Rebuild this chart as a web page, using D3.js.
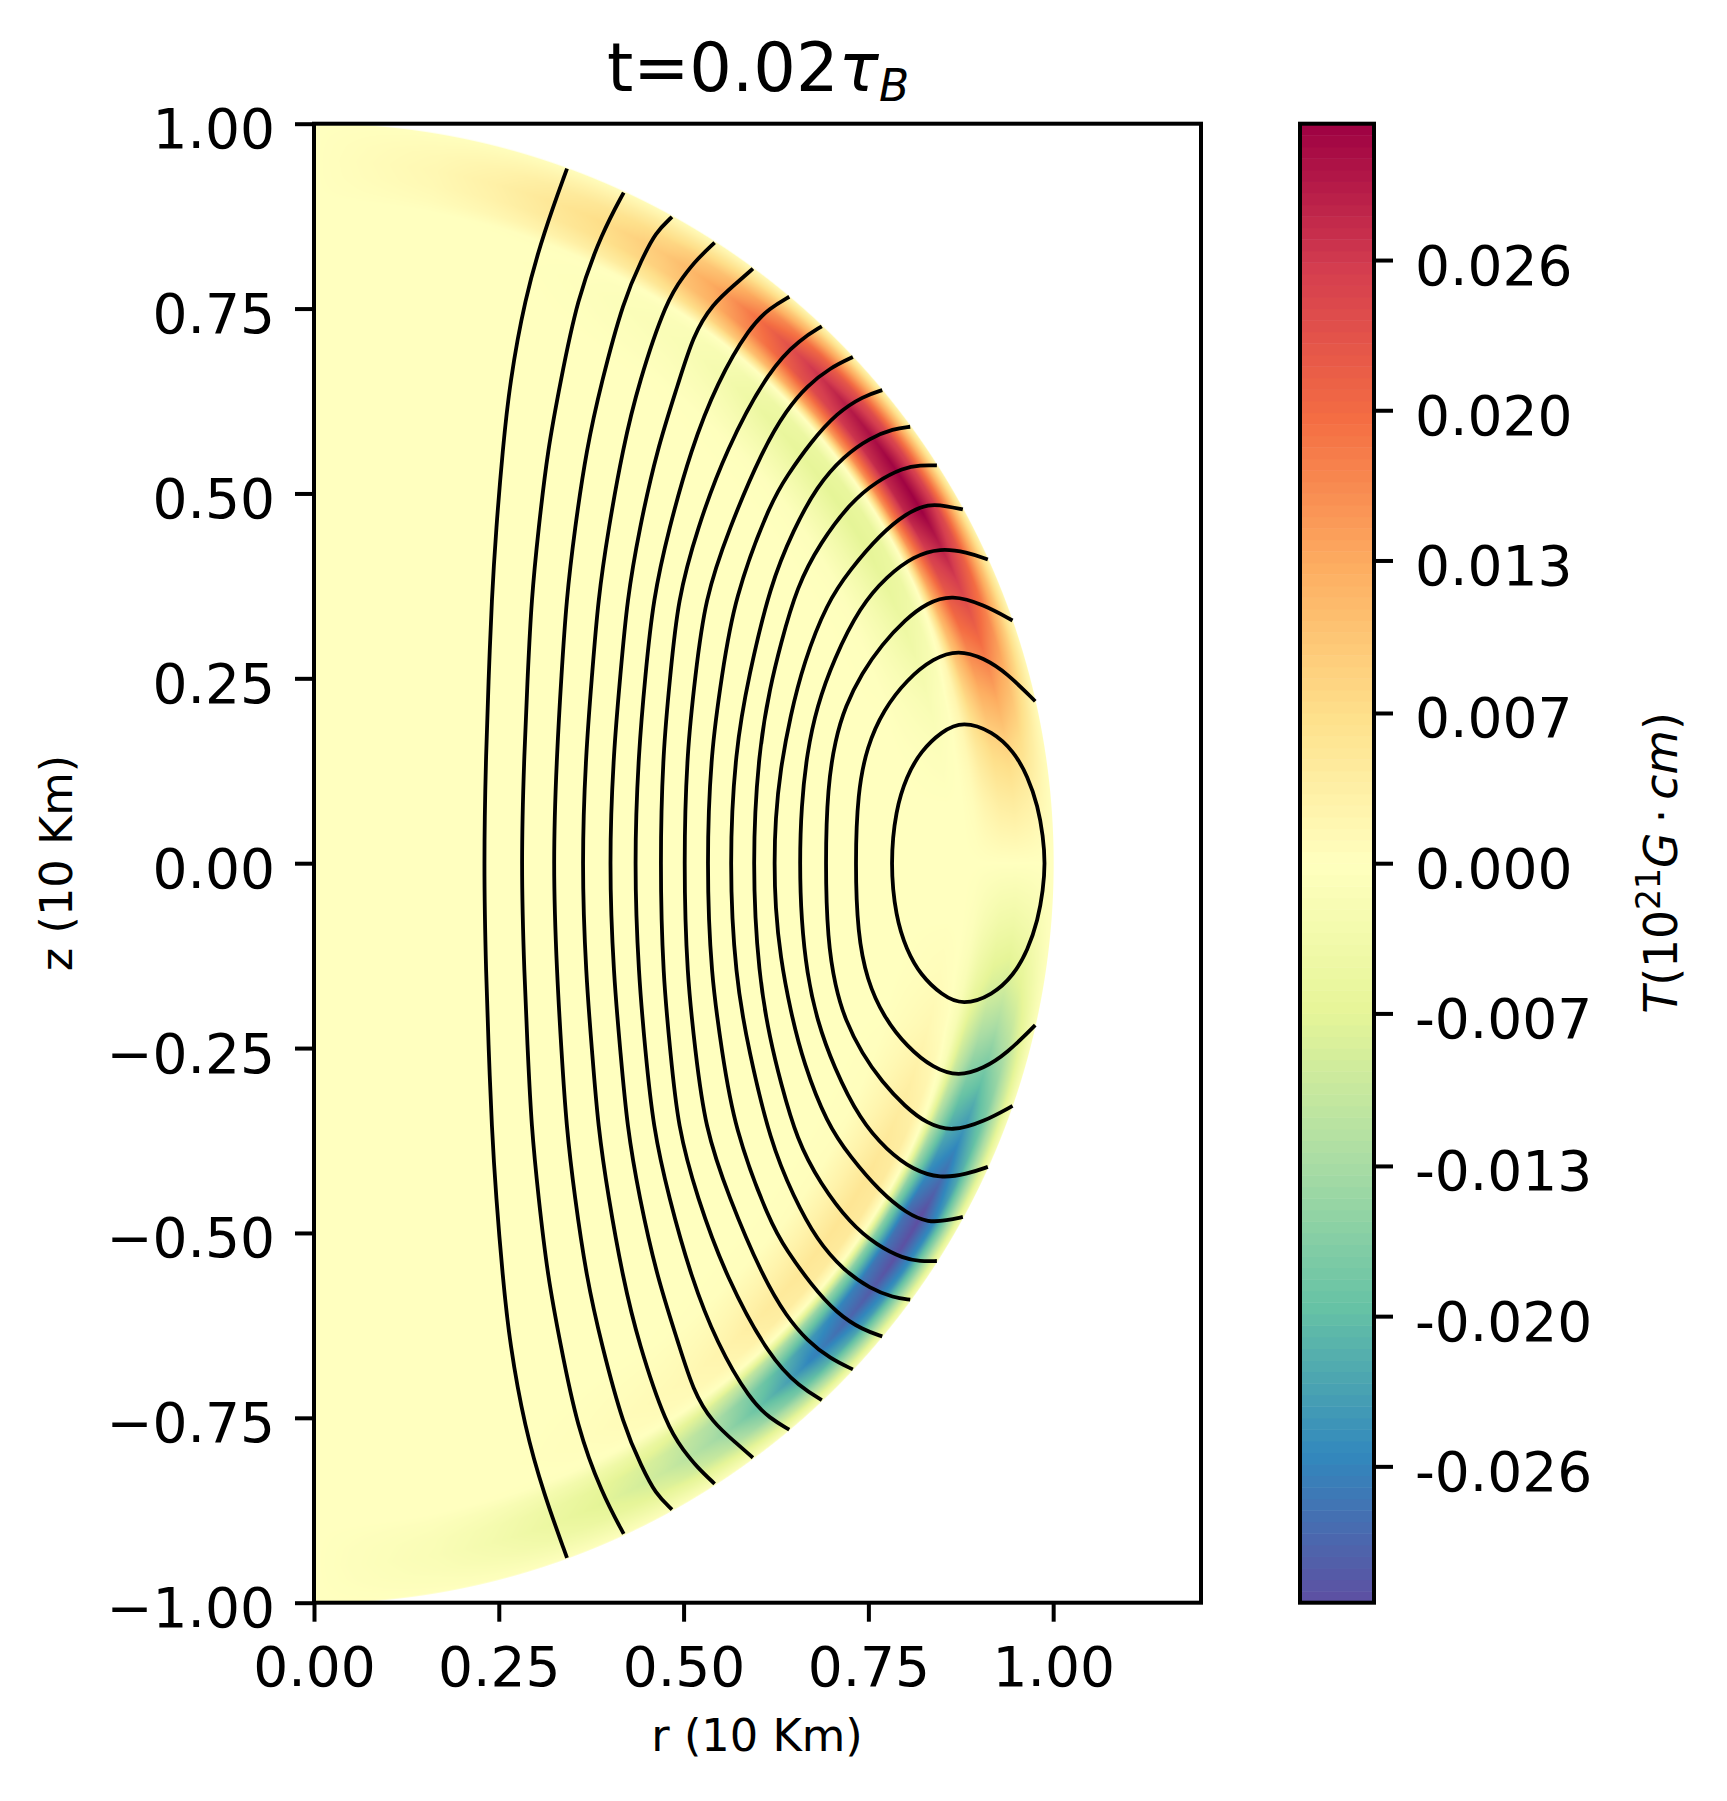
<!DOCTYPE html>
<html>
<head>
<meta charset="utf-8">
<script src="https://cdnjs.cloudflare.com/ajax/libs/d3/7.8.5/d3.min.js"></script>
<style>
  body { margin: 0; background: #fff; }
  text { font-family: "DejaVu Sans"; fill: #000; }
</style>
</head>
<body>
<div id="my_dataviz"></div>
<script>
// tick values and labels
const xTicks = [0, 0.25, 0.5, 0.75, 1];
const yTicks = [-1, -0.75, -0.5, -0.25, 0, 0.25, 0.5, 0.75, 1];
const cbarTicks = [-0.0261, -0.0196, -0.0131, -0.0065, 0, 0.0065, 0.0131, 0.0196, 0.0261];
const cbarLabels = ["-0.026", "-0.020", "-0.013", "-0.007", "0.000", "0.007", "0.013", "0.020", "0.026"];
const vmax = 0.032;

// field T, unit 0.001, upper half only (the lower half is the same with the sign flipped)
const radii = [0, 0.76, 0.80, 0.83, 0.86, 0.88, 0.895, 0.91, 0.93, 0.95, 0.97, 0.985, 1];
const colatitudes = [0, 10, 15, 20, 25, 30, 35, 40, 45, 50, 55, 60, 65, 70, 75, 80, 85, 90];
const fieldT = [
  [0, 0, 0, 0, 0, 0, 0, 0, 0, 0, 0, 0, 0],
  [0, 0, 0, 0, 0, 0, 0, 0.7, 1.3, 1.5, 1.2, 0.7, 0.1],
  [0, 0, 0, 0, 0, 0, 0.1, 1.5, 2.6, 3, 2.3, 1.4, 0.3],
  [0, 0, 0, 0, -0.1, 0, 0.2, 2.5, 4.4, 5, 3.9, 2.3, 0.4],
  [0, 0, 0, -0.2, -0.4, -0.2, 0.2, 3.5, 6.2, 7, 5.5, 3.2, 0.6],
  [0, 0, -0.1, -0.5, -1, -0.7, 0.2, 4.8, 8.4, 9.5, 7.4, 4.3, 0.8],
  [0, 0, -0.1, -0.8, -1.5, -1.2, 0.1, 6.8, 11.9, 13.5, 10.5, 6.1, 1.1],
  [0, 0, -0.2, -1.4, -2.8, -2.3, 0, 10, 17.6, 20, 15.6, 9, 1.6],
  [0, 0, -0.4, -2.5, -5, -4.2, 0, 13, 22.9, 26, 20.3, 11.7, 2.1],
  [0, 0, -0.4, -3, -6, -5, 0, 14.8, 26, 29.5, 23, 13.3, 2.4],
  [0, 0, -0.5, -3.2, -6.5, -5.5, 0, 15.8, 27.7, 31.5, 24.6, 14.2, 2.5],
  [0, 0, -0.5, -3.2, -6.5, -5.5, 0, 16, 28.2, 32, 25, 14.4, 2.6],
  [0, 0, -0.4, -2.7, -5.5, -4.5, 0, 13.5, 23.8, 27, 21, 12.2, 2.2],
  [0, 0, -0.3, -2, -4, -2.5, 1, 11, 19, 21.5, 16.8, 9.7, 1.7],
  [0, 0, -0.1, -1, -2, -0.6, 2, 8, 13.2, 15, 11.7, 6.8, 1.2],
  [0, 0, 0, -0.3, -0.7, 0, 1.5, 4.6, 7.5, 8.5, 6.6, 3.8, 0.7],
  [0, 0, 0, 0, 0, 0, 0.6, 2, 3.5, 4, 3.1, 1.8, 0.3],
  [0, 0, 0, 0, 0, 0, 0, 0, 0, 0, 0, 0, 0]
];
// the pale orange trough in the lower half is a bit weaker than the green one above
const lowerTrough = 0.8;

// field lines, [r, z] from the surface down to z = 0, upper half (the plot is mirrored about z = 0)
const fieldLines = [
  [[.3423,.9393],[.3108,.8527],[.285,.7625],[.2648,.6498],[.2553,.5595],[.2463,.4513],[.2404,.3565],[.2364,.2528],[.2328,.1535],[.2295,0]],
  [[.419,.9069],[.3896,.8527],[.3558,.7625],[.3333,.6498],[.3162,.5595],[.3036,.4513],[.2941,.3565],[.2891,.2528],[.2846,.1535],[.280,0]],
  [[.4843,.874],[.4618,.8527],[.4437,.8167],[.419,.7625],[.3887,.6498],[.3685,.5595],[.3527,.4513],[.3414,.3565],[.3347,.2528],[.3288,.1535],[.323,0]],
  [[.542,.8392],[.5181,.8166],[.5001,.7941],[.4775,.7625],[.4392,.6498],[.4176,.5595],[.3982,.4513],[.3842,.3565],[.3761,.2528],[.368,.1535],[.362,0]],
  [[.5938,.804],[.5722,.785],[.5384,.7557],[.5127,.7129],[.4933,.6498],[.464,.5595],[.44,.4513],[.4235,.3565],[.4144,.2528],[.4054,.1535],[.399,0]],
  [[.643,.766],[.6173,.751],[.5902,.7264],[.5452,.6498],[.51,.5595],[.4798,.4513],[.4586,.3565],[.4482,.2528],[.4392,.1535],[.433,0]],
  [[.687,.726],[.6579,.7084],[.6173,.67],[.5573,.5595],[.5181,.4513],[.492,.3565],[.482,.2528],[.4721,.1535],[.468,0]],
  [[.729,.6845],[.6984,.67],[.6669,.6453],[.6398,.6137],[.607,.5595],[.561,.4513],[.5285,.3565],[.5159,.2528],[.5046,.1535],[.500,0]],
  [[.7688,.6398],[.7435,.6317],[.7075,.6092],[.6714,.5686],[.6398,.5235],[.6173,.4874],[.5677,.3565],[.5519,.2528],[.5371,.1535],[.531,0]],
  [[.8066,.5902],[.7841,.5875],[.7525,.5753],[.7165,.5505],[.6804,.5099],[.6489,.4513],[.6173,.3769],[.588,.2528],[.5699,.1535],[.5616,0]],
  [[.8427,.5379],[.8201,.5384],[.7976,.5347],[.7615,.5167],[.7255,.4874],[.6849,.4332],[.6534,.3746],[.6308,.2944],[.6173,.2393],[.6015,.1535],[.5925,0]],
  [[.8778,.4784],[.8562,.4829],[.8314,.4861],[.8021,.4738],[.766,.4445],[.7255,.3972],[.6939,.3521],[.6624,.2709],[.6443,.1987],[.6308,.1265],[.6241,.0589],[.6227,0]],
  [[.9116,.4107],[.8832,.4206],[.8472,.4262],[.8111,.4152],[.7751,.3881],[.739,.3476],[.703,.2754],[.6804,.2122],[.6669,.1491],[.6592,.0769],[.657,0]],
  [[.945,.3282],[.9058,.3498],[.863,.3632],[.8292,.3521],[.7999,.3295],[.7683,.2957],[.7413,.2573],[.7187,.2122],[.7052,.1671],[.6948,.104],[.6917,0]],
  [[.9757,.219],[.9373,.2573],[.9058,.2776],[.872,.2885],[.8382,.2776],[.8021,.2483],[.7706,.2077],[.748,.1581],[.7354,.095],[.7322,0]],
  [[.9892,0],[.9864,.0363],[.9794,.0769],[.9657,.1175],[.9467,.1513],[.918,.1784],[.8778,.1925],[.8493,.1784],[.8207,.1513],[.8017,.1175],[.7869,.0724],[.7796,0]]
];

// plot box in page pixels
const box = {left: 314, right: 1201, top: 123.7, bottom: 1602.7};
const cbar = {left: 1300, right: 1374};

const svg = d3.select("#my_dataviz")
  .append("svg")
    .attr("width", 1727)
    .attr("height", 1801);

const x = d3.scaleLinear().domain([0, 1.2]).range([box.left, box.right]);
const y = d3.scaleLinear().domain([-1, 1]).range([box.bottom, box.top]);
const cy = d3.scaleLinear().domain([-vmax, vmax]).range([box.bottom, box.top]);

// matplotlib Spectral: the 11 brewer colours, linear in between
const spectral = d3.scaleLinear()
  .domain(d3.range(11).map(i => vmax - i * vmax / 5))
  .range(d3.schemeSpectral[11]);

// shaded half disc, painted pixel by pixel with linear shading between the grid knots
const rIndex = d3.scaleLinear().domain(radii).range(d3.range(radii.length));
const thIndex = d3.scaleLinear().domain(colatitudes).range(d3.range(colatitudes.length));
function fieldAt(R, th) {
  const a = thIndex(th > 90 ? 180 - th : th), b = rIndex(R);
  const a0 = Math.min(Math.floor(a), colatitudes.length - 2), b0 = Math.min(Math.floor(b), radii.length - 2);
  const fa = a - a0, fb = b - b0;
  const v = 0.001 * (
    (1 - fa) * ((1 - fb) * fieldT[a0][b0] + fb * fieldT[a0][b0 + 1]) +
    fa * ((1 - fb) * fieldT[a0 + 1][b0] + fb * fieldT[a0 + 1][b0 + 1]));
  if (th <= 90) return v;
  return v < 0 ? -v * lowerTrough : -v;
}
const canvas = document.createElement("canvas");
const w = Math.ceil(box.right - box.left), h = Math.ceil(box.bottom - box.top);
canvas.width = w;
canvas.height = h;
const ctx = canvas.getContext("2d");
const pxSize = x.invert(box.left + 1) - x.invert(box.left);
for (let j = 0; j < h; j++) {
  for (let i = 0; i < w; i++) {
    const r = x.invert(box.left + i + 0.5), z = y.invert(box.top + j + 0.5);
    const R = Math.hypot(r, z);
    if (R > 1 + pxSize) continue;
    const th = Math.atan2(r, z) * 180 / Math.PI;
    const c = d3.rgb(spectral(fieldAt(Math.min(R, 1), th)));
    c.opacity = Math.min(1, (1 + pxSize - R) / pxSize);
    ctx.fillStyle = c.formatRgb();
    ctx.fillRect(i, j, 1, 1);
  }
}
svg.append("image")
  .attr("x", box.left)
  .attr("y", box.top)
  .attr("width", w)
  .attr("height", h)
  .attr("href", canvas.toDataURL());

// field lines
const line = d3.line()
  .x(d => x(d[0]))
  .y(d => y(d[1]))
  .curve(d3.curveBasis);
const ovalLine = d3.line()
  .x(d => x(d[0]))
  .y(d => y(d[1]))
  .curve(d3.curveBasisClosed);
svg.append("g")
  .selectAll("path")
  .data(fieldLines)
  .join("path")
    .attr("fill", "none")
    .attr("stroke", "#000")
    .attr("stroke-width", 3.8)
    .attr("d", (pts, i) => {
      const lower = pts.slice(0, -1).reverse().map(p => [p[0], -p[1]]);
      // the innermost line is a closed oval
      if (i === fieldLines.length - 1) return ovalLine(pts.concat(lower.slice(0, -1)));
      return line(pts.concat(lower));
    });

// plot frame and axes
svg.append("rect")
  .attr("x", box.left)
  .attr("y", box.top)
  .attr("width", box.right - box.left)
  .attr("height", box.bottom - box.top)
  .attr("fill", "none")
  .attr("stroke", "#000")
  .attr("stroke-width", 4);

function styleAxis(g, fontSize) {
  g.select(".domain").remove();
  g.selectAll(".tick line").attr("stroke", "#000").attr("stroke-width", 4);
  g.selectAll(".tick text").attr("font-family", "DejaVu Sans").attr("font-size", fontSize).attr("fill", "#000");
}

svg.append("g")
  .attr("transform", `translate(0,${box.bottom})`)
  .call(d3.axisBottom(x).tickValues(xTicks).tickFormat(d3.format(".2f")).tickSize(19).tickPadding(25))
  .call(styleAxis, 55);

svg.append("g")
  .attr("transform", `translate(${box.left},0)`)
  .call(d3.axisLeft(y).tickValues(yTicks).tickFormat(d3.format(".2f")).tickSize(19).tickPadding(20))
  .call(styleAxis, 55)
  .selectAll(".tick text").attr("dy", 24);

// colour bar
const levels = d3.range(128).map(i => -vmax + (i + 0.5) * 2 * vmax / 128);
const cellH = (box.bottom - box.top) / 128;
svg.append("g")
  .selectAll("rect")
  .data(levels)
  .join("rect")
    .attr("x", cbar.left)
    .attr("y", d => cy(d) - cellH / 2)
    .attr("width", cbar.right - cbar.left)
    .attr("height", cellH + 0.5)
    .attr("fill", d => spectral(d));
svg.append("rect")
  .attr("x", cbar.left)
  .attr("y", box.top)
  .attr("width", cbar.right - cbar.left)
  .attr("height", box.bottom - box.top)
  .attr("fill", "none")
  .attr("stroke", "#000")
  .attr("stroke-width", 4);
svg.append("g")
  .attr("transform", `translate(${cbar.right},0)`)
  .call(d3.axisRight(cy).tickValues(cbarTicks).tickFormat((d, i) => cbarLabels[i]).tickSize(19).tickPadding(22))
  .call(styleAxis, 55)
  .selectAll(".tick text").attr("dy", 24);

// title
const title = svg.append("text")
  .attr("x", 758)
  .attr("y", 91)
  .attr("text-anchor", "middle")
  .style("font-size", "67px");
title.append("tspan").text("t=0.02");
title.append("tspan").attr("font-style", "italic").text("τ");
title.append("tspan").attr("font-style", "italic").attr("dy", 10).style("font-size", "44px").text("B");

// axis labels
svg.append("text")
  .attr("x", 757)
  .attr("y", 1751)
  .attr("text-anchor", "middle")
  .style("font-size", "44.7px")
  .text("r (10 Km)");

svg.append("text")
  .attr("transform", "translate(72,863) rotate(-90)")
  .attr("text-anchor", "middle")
  .style("font-size", "44.7px")
  .text("z (10 Km)");

const cbLabel = svg.append("text")
  .attr("transform", "translate(1676.5,863) rotate(-90)")
  .attr("text-anchor", "middle")
  .style("font-size", "45.7px");
cbLabel.append("tspan").attr("font-style", "italic").text("T");
cbLabel.append("tspan").text("(10");
cbLabel.append("tspan").attr("dy", -17).style("font-size", "33px").text("21");
cbLabel.append("tspan").attr("dy", 17).attr("font-style", "italic").text("G");
cbLabel.append("tspan").text("\u2009·\u2009");
cbLabel.append("tspan").attr("font-style", "italic").text("cm");
cbLabel.append("tspan").text(")");
</script>
</body>
</html>
